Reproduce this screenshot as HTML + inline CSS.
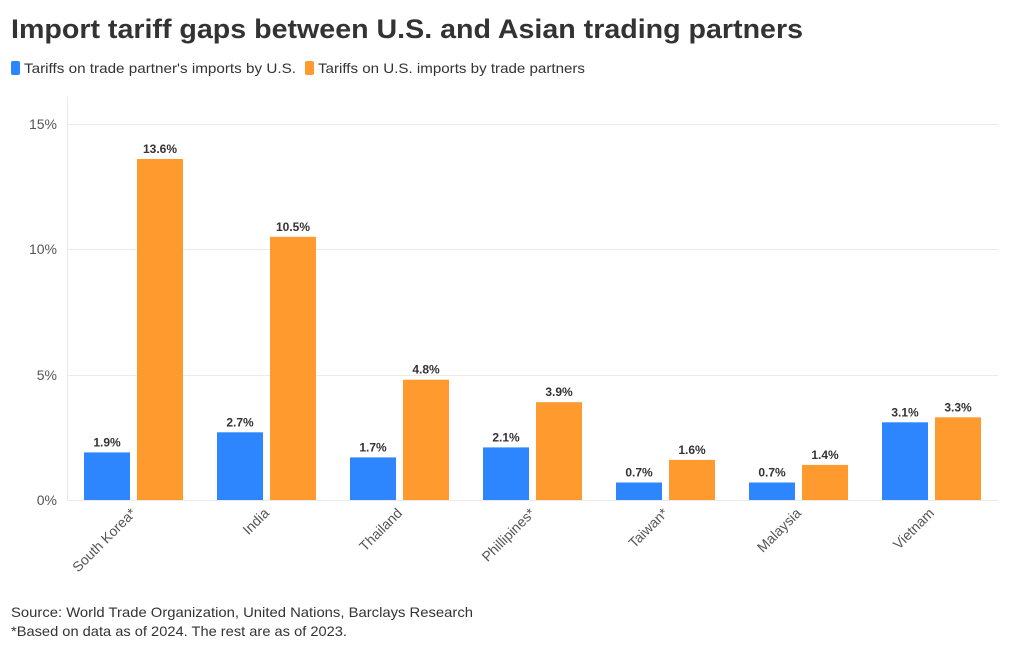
<!DOCTYPE html>
<html><head><meta charset="utf-8"><style>
body{margin:0;background:#fff;width:1020px;height:650px;overflow:hidden;font-family:"Liberation Sans",sans-serif}
</style></head><body>
<svg width="1020" height="650" xmlns="http://www.w3.org/2000/svg" font-family="Liberation Sans, sans-serif">
<text x="11" y="38" font-size="27" font-weight="bold" fill="#333" textLength="792" lengthAdjust="spacingAndGlyphs">Import tariff gaps between U.S. and Asian trading partners</text>
<rect x="11" y="61" width="9" height="14" rx="2" fill="#2e86ff"/>
<text x="24" y="73" font-size="14" fill="#333" textLength="272" lengthAdjust="spacingAndGlyphs">Tariffs on trade partner's imports by U.S.</text>
<rect x="305" y="61" width="9" height="14" rx="2" fill="#ff9b2e"/>
<text x="318" y="73" font-size="14" fill="#333" textLength="267" lengthAdjust="spacingAndGlyphs">Tariffs on U.S. imports by trade partners</text>
<g stroke="#ebebeb" stroke-width="1">
<line x1="67.5" y1="97" x2="67.5" y2="500"/>
<line x1="67" y1="124.5" x2="998" y2="124.5"/>
<line x1="67" y1="249.5" x2="998" y2="249.5"/>
<line x1="67" y1="375.5" x2="998" y2="375.5"/>
<line x1="67" y1="500.5" x2="998" y2="500.5"/>
</g>
<g font-size="14" fill="#555" text-anchor="end">
<text x="57" y="129">15%</text><text x="57" y="254">10%</text><text x="57" y="380">5%</text><text x="57" y="505">0%</text>
</g>
<g fill="#2e86ff">
<rect x="84" y="452.4" width="46" height="47.6"/>
<rect x="217" y="432.3" width="46" height="67.7"/>
<rect x="350" y="457.4" width="46" height="42.6"/>
<rect x="483" y="447.4" width="46" height="52.6"/>
<rect x="616" y="482.5" width="46" height="17.5"/>
<rect x="749" y="482.5" width="46" height="17.5"/>
<rect x="882" y="422.3" width="46" height="77.7"/>
</g>
<g fill="#ff9b2e">
<rect x="137" y="159" width="46" height="341"/>
<rect x="270" y="236.8" width="46" height="263.2"/>
<rect x="403" y="379.7" width="46" height="120.3"/>
<rect x="536" y="402.2" width="46" height="97.8"/>
<rect x="669" y="459.9" width="46" height="40.1"/>
<rect x="802" y="464.9" width="46" height="35.1"/>
<rect x="935" y="417.3" width="46" height="82.7"/>
</g>
<g font-size="12" font-weight="bold" fill="#333" text-anchor="middle">
<text x="107" y="446.4">1.9%</text><text x="160" y="153">13.6%</text>
<text x="240" y="426.3">2.7%</text><text x="293" y="230.8">10.5%</text>
<text x="373" y="451.4">1.7%</text><text x="426" y="373.7">4.8%</text>
<text x="506" y="441.4">2.1%</text><text x="559" y="396.2">3.9%</text>
<text x="639" y="476.5">0.7%</text><text x="692" y="453.9">1.6%</text>
<text x="772" y="476.5">0.7%</text><text x="825" y="458.9">1.4%</text>
<text x="905" y="416.3">3.1%</text><text x="958" y="411.3">3.3%</text>
</g>
<g font-size="14" fill="#555" text-anchor="end">
<text transform="translate(137,514) rotate(-45)">South Korea*</text>
<text transform="translate(270,514) rotate(-45)">India</text>
<text transform="translate(403,514) rotate(-45)">Thailand</text>
<text transform="translate(536,514) rotate(-45)">Phillipines*</text>
<text transform="translate(669,514) rotate(-45)">Taiwan*</text>
<text transform="translate(802,514) rotate(-45)">Malaysia</text>
<text transform="translate(935,514) rotate(-45)">Vietnam</text>
</g>
<text x="11" y="617" font-size="14" fill="#333" textLength="462" lengthAdjust="spacingAndGlyphs">Source: World Trade Organization, United Nations, Barclays Research</text>
<text x="11" y="636" font-size="14" fill="#333" textLength="336" lengthAdjust="spacingAndGlyphs">*Based on data as of 2024. The rest are as of 2023.</text>
</svg>
</body></html>
